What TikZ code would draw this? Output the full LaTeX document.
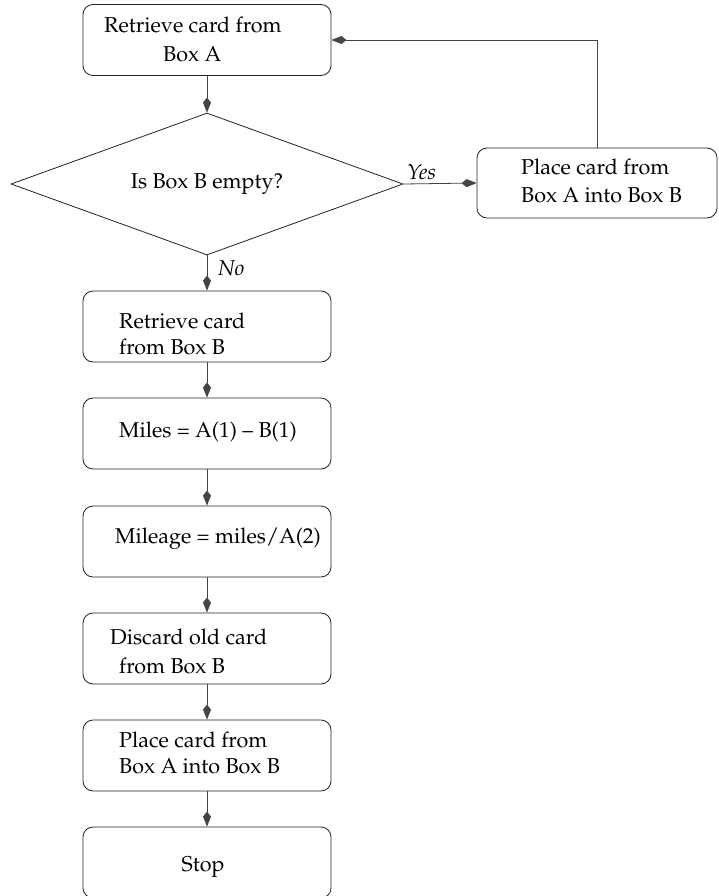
\documentclass[tikz,border=0pt]{standalone}
\usepackage[T1]{fontenc}
\usepackage{mathpazo}
\usetikzlibrary{arrows.meta,shapes.geometric}
\definecolor{edge}{HTML}{222222}
\definecolor{wire}{HTML}{444444}
\begin{document}
\begin{tikzpicture}[x=1pt,y=-1pt,
  every node/.style={font=\fontsize{21.5}{27}\selectfont},
  stepbox/.style={draw=edge,line width=0.8pt,rounded corners=10pt,
    minimum width=248pt,minimum height=71pt,inner sep=0pt},
  decision/.style={draw=edge,line width=0.8pt,diamond,aspect=2.76,
    minimum width=392pt,minimum height=142pt,inner sep=0pt},
  txt/.style={anchor=base west,inner sep=0pt},
  flow/.style={draw=wire,line width=0.8pt,
    -{Kite[length=15pt,width=8pt,inset=5pt]}},
  tag/.style={anchor=base west,inner sep=0pt,font=\fontsize{21.5}{27}\selectfont\itshape}]
\useasboundingbox (0,0) rectangle (718,896);

% main column of steps
\node[stepbox] (get1) at (207,40) {};
\node[decision] (empty) at (207,184) {Is Box B empty?};
\node[stepbox,minimum width=240pt,minimum height=70pt] (put1) at (597,183) {};
\node[stepbox] (get2) at (207,326.5) {};
\node[stepbox] (miles) at (207,433.5) {};
\node[stepbox] (mpg) at (207,541.5) {};
\node[stepbox] (drop) at (207,648.5) {};
\node[stepbox] (put2) at (207,755.5) {};
\node[stepbox] (stop) at (207,862.5) {};

% box texts
\node[txt] (get1a) at (104,33) {Retrieve card from};
\node[txt] (get1b) at (163,62) {Box A};
\node[txt] (put1a) at (521,175) {Place card from};
\node[txt] (put1b) at (521,202) {Box A into Box B};
\node[txt] (get2a) at (119,328) {Retrieve card};
\node[txt] (get2b) at (119,354) {from Box B};
\node[txt] (milesa) at (119,437) {Miles = A(1) -- B(1)};
\node[txt] (mpga) at (115,543) {Mileage = miles/A(2)};
\node[txt] (dropa) at (110,644) {Discard old card};
\node[txt] (dropb) at (119,673) {from Box B};
\node[txt] (put2a) at (119,747) {Place card from};
\node[txt] (put2b) at (119,773) {Box A into Box B};
\node[anchor=base,inner sep=0pt] (stopa) at (203,871) {Stop};

% connectors
\draw[flow] (get1) -- (empty);
\draw[flow] (empty.east) -- (put1.west);
\draw[flow] (put1.north) |- (get1.east);
\draw[flow] (empty.south) -- (get2.north);
\draw[flow] (get2) -- (miles);
\draw[flow] (miles) -- (mpg);
\draw[flow] (mpg) -- (drop);
\draw[flow] (drop) -- (put2);
\draw[flow] (put2) -- (stop);

% branch labels
\node[tag] (yes) at (407,180) {Yes};
\node[tag] (no) at (218,275) {No};
\end{tikzpicture}
\end{document}
